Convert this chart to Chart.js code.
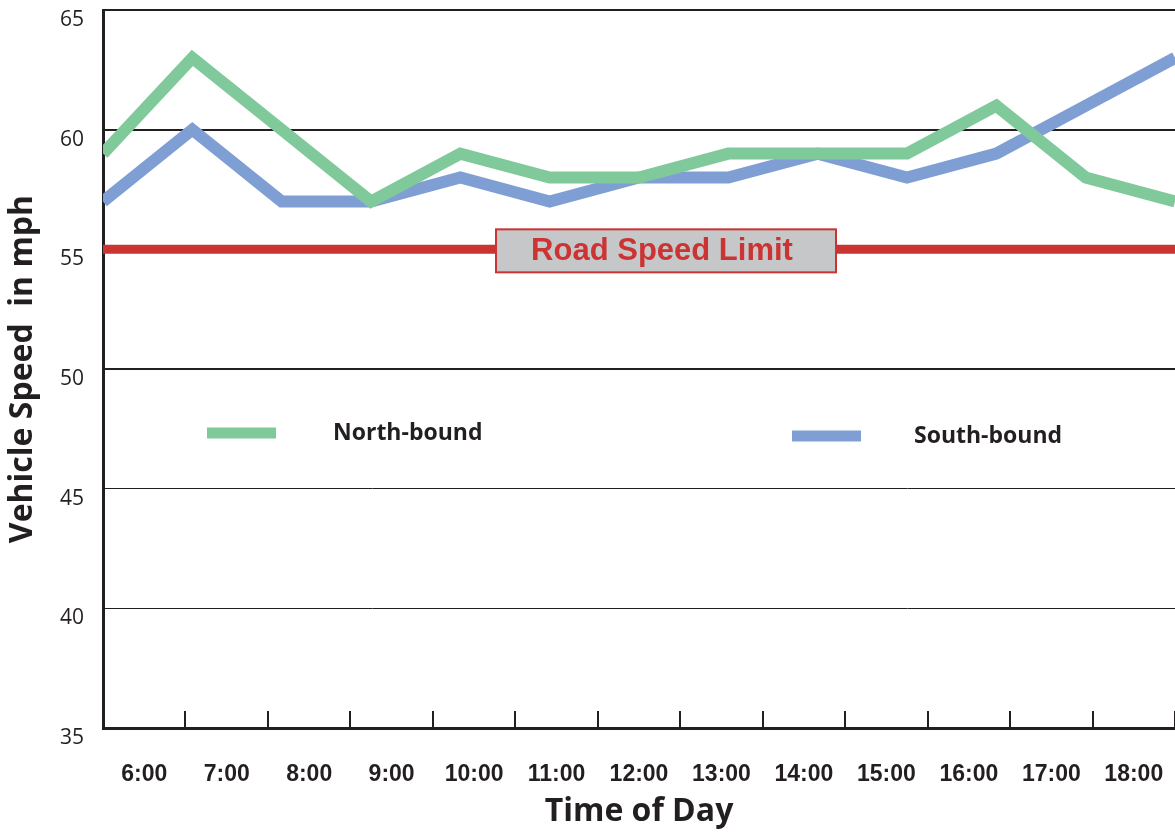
<!DOCTYPE html>
<html>
<head>
<meta charset="utf-8">
<script src="https://cdn.jsdelivr.net/npm/chart.js@4.4.1/dist/chart.umd.min.js"></script>
<style>
  html, body { margin: 0; padding: 0; background: #fff; }
  #wrap { width: 1175px; height: 835px; }
</style>
</head>
<body>
<div id="wrap"><canvas id="speedChart"></canvas></div>
<script>
// values
const hours = ['6:00', '7:00', '8:00', '9:00', '10:00', '11:00', '12:00', '13:00', '14:00', '15:00', '16:00', '17:00', '18:00'];
const northBound = [59, 63, 60, 57, 59, 58, 58, 59, 59, 59, 61, 58, 57];
const southBound = [57, 60, 57, 57, 58, 57, 58, 58, 59, 58, 59, 61, 63];
const speedLimit = 55;
const yTicks = [35, 40, 45, 50, 55, 60, 65];

const ink = '#231f20';
const green = '#80c99a';
const blue = '#7f9fd4';
const red = '#cc3333';

// red limit line with its grey label box
const limitPlugin = {
  id: 'limit',
  beforeDatasetsDraw(chart) {
    const { ctx, chartArea } = chart;
    const y = chart.scales.y.getPixelForValue(speedLimit);
    ctx.save();
    ctx.strokeStyle = red;
    ctx.lineWidth = 9;
    ctx.beginPath();
    ctx.moveTo(chartArea.left, y);
    ctx.lineTo(chartArea.right, y);
    ctx.stroke();
    ctx.fillStyle = '#c6c7c9';
    ctx.fillRect(496, y - 20, 340, 43);
    ctx.lineWidth = 2;
    ctx.strokeRect(496, y - 20, 340, 43);
    ctx.fillStyle = red;
    ctx.font = 'bold 31px "Liberation Sans", Arial, sans-serif';
    ctx.textAlign = 'center';
    ctx.textBaseline = 'middle';
    ctx.fillText('Road Speed Limit', 662, y + 2);
    ctx.restore();
  }
};

// tick marks between hour labels, pointing into the plot
const tickPlugin = {
  id: 'tickMarks',
  afterDatasetsDraw(chart) {
    const { ctx, chartArea } = chart;
    const xs = chart.scales.x;
    ctx.save();
    ctx.strokeStyle = ink;
    ctx.lineWidth = 2;
    for (let i = 0; i <= hours.length; i++) {
      const x = Math.round(xs.getPixelForValue(i - 0.5));
      ctx.beginPath();
      ctx.moveTo(x, chartArea.bottom);
      ctx.lineTo(x, chartArea.bottom - 17);
      ctx.stroke();
    }
    ctx.restore();
  }
};

// legend placed inside the plot like the original
const legendPlugin = {
  id: 'inlineLegend',
  afterDatasetsDraw(chart) {
    const { ctx } = chart;
    const items = [
      { label: 'North-bound', color: green, x: 207, y: 433, tx: 333 },
      { label: 'South-bound', color: blue, x: 792, y: 436, tx: 914 }
    ];
    ctx.save();
    ctx.font = 'bold 23px "Open Sans", sans-serif';
    ctx.textBaseline = 'middle';
    items.forEach(it => {
      ctx.strokeStyle = it.color;
      ctx.lineWidth = 11;
      ctx.beginPath();
      ctx.moveTo(it.x, it.y);
      ctx.lineTo(it.x + 69, it.y);
      ctx.stroke();
      ctx.fillStyle = ink;
      ctx.fillText(it.label, it.tx, it.y);
    });
    ctx.restore();
  }
};

const ctx = document.getElementById('speedChart').getContext('2d');
new Chart(ctx, {
  type: 'line',
  data: {
    labels: hours,
    datasets: [
      {
        label: 'North-bound',
        data: northBound.map((v, i) => ({ x: i, y: v })),
        xAxisID: 'xd',
        borderColor: green,
        borderWidth: 12,
        borderJoinStyle: 'miter',
        pointRadius: 0,
        tension: 0
      },
      {
        label: 'South-bound',
        data: southBound.map((v, i) => ({ x: i, y: v })),
        xAxisID: 'xd',
        borderColor: blue,
        borderWidth: 12,
        borderJoinStyle: 'miter',
        pointRadius: 0,
        tension: 0
      }
    ]
  },
  options: {
    responsive: true,
    maintainAspectRatio: false,
    animation: false,
    layout: { padding: { top: 10, right: 0, left: 0, bottom: 0 } },
    plugins: { legend: { display: false }, tooltip: { enabled: false } },
    scales: {
      x: {
        type: 'category',
        offset: true,
        grid: { display: false, offset: true },
        border: { display: true, color: ink, width: 3 },
        ticks: {
          color: ink,
          padding: 25,
          maxRotation: 0,
          autoSkip: false,
          font: { family: '"Liberation Sans", Arial, sans-serif', size: 23, weight: 'bold' }
        },
        title: {
          display: true,
          text: 'Time of Day',
          color: ink,
          font: { family: '"Open Sans", sans-serif', size: 32, weight: 'bold' }
        },
        afterFit(scale) {
          scale.height = 107;
          scale.paddingLeft = 0;
          scale.paddingRight = 0;
        }
      },
      xd: {
        type: 'linear',
        display: false,
        min: 0,
        max: 12
      },
      y: {
        min: 35,
        max: 65,
        afterBuildTicks(scale) { scale.ticks = yTicks.map(v => ({ value: v })); },
        grid: {
          drawTicks: false,
          color: c => (c.tick && c.tick.value === 35 ? 'rgba(0,0,0,0)' : ink),
          lineWidth: c => {
            const v = c.tick ? c.tick.value : 0;
            return (v === 60 || v === 50 || v === 65) ? 2 : 1;
          }
        },
        border: { display: true, color: ink, width: 3 },
        ticks: {
          color: ink,
          padding: 19,
          labelOffset: 10,
          font: { family: '"Open Sans", sans-serif', size: 21 }
        },
        title: {
          display: true,
          text: 'Vehicle Speed  in mph',
          color: ink,
          font: { family: '"Open Sans", sans-serif', size: 32, weight: 'bold' }
        },
        afterFit(scale) {
          scale.width = 103;
          scale.paddingTop = 0;
          scale.paddingBottom = 0;
        }
      }
    }
  },
  plugins: [limitPlugin, tickPlugin, legendPlugin]
});
</script>
</body>
</html>
